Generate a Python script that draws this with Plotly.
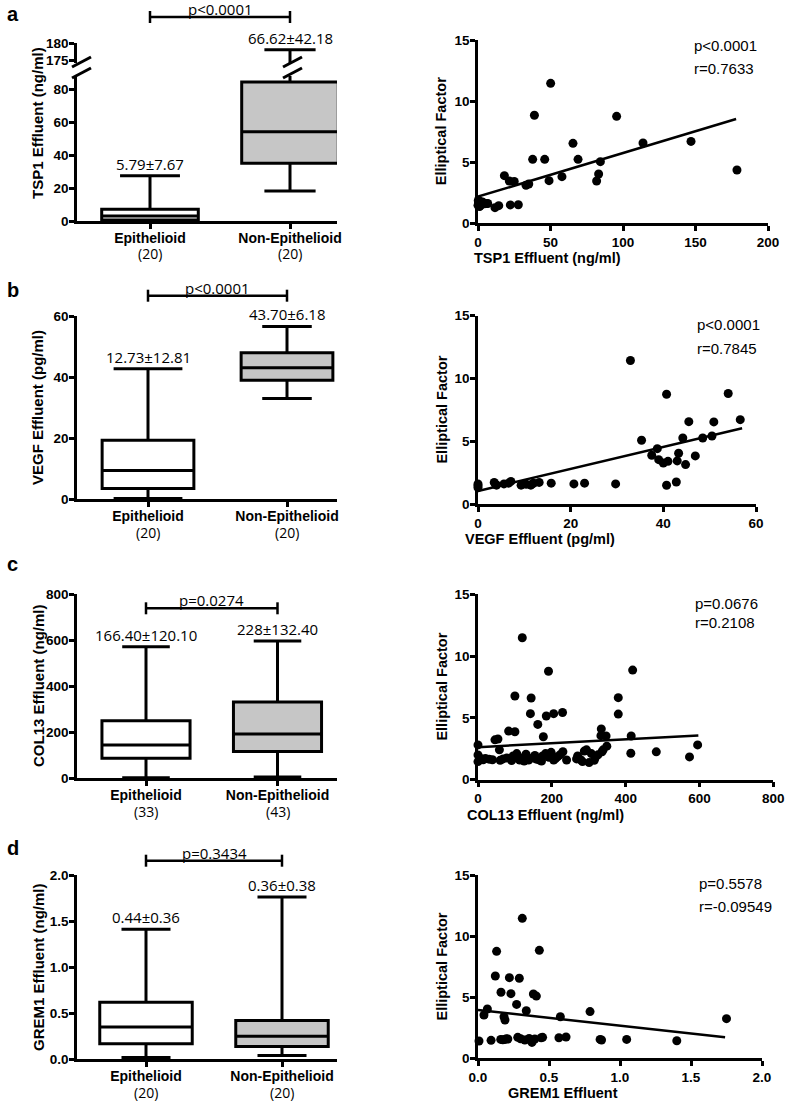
import plotly.graph_objects as go

W, H = 787, 1102

groups = ["Epithelioid", "Non-Epithelioid"]

# ---------------- Panel a : TSP1 ----------------
tsp1_n = ["20", "20"]
tsp1_min = [0.0, 18.2]
tsp1_q1 = [0.6, 35.0]
tsp1_med = [3.0, 54.1]
tsp1_q3 = [7.1, 84.4]
tsp1_max = [27.5, 178.0]
tsp1_meansd = ["5.79±7.67", "66.62±42.18"]
tsp1_p = "p<0.0001"
tsp1_x = [50.1, 38.9, 95.6, 146.9, 65.5, 113.8, 37.7, 46.0, 69.0, 84.4,
          83.2, 81.8, 178.6, 57.9, 49.0, 18.2, 21.6, 25.0, 33.1, 35.0,
          22.3, 27.8, 11.7, 14.3, 6.7, 5.8, 3.5, 0.0, 0.3, 0.5,
          0.8, 1.2, 1.5, 2.0, 2.5, 3.0, 1.0, 0.2, 4.5, 0.6]
tsp1_ef = [11.45, 8.83, 8.74, 6.69, 6.53, 6.56, 5.22, 5.22, 5.22, 5.03,
           4.02, 3.44, 4.34, 3.80, 3.47, 3.88, 3.44, 3.40, 3.09, 3.20,
           1.48, 1.50, 1.26, 1.42, 1.60, 1.60, 1.65, 1.45, 1.75, 1.55,
           1.80, 1.62, 1.40, 1.70, 1.55, 1.72, 1.35, 1.85, 1.58, 1.68]
tsp1_fit_x = [0, 178]
tsp1_fit_y = [2.16, 8.52]
tsp1_stats = ["p<0.0001", "r=0.7633"]

# ---------------- Panel b : VEGF ----------------
vegf_n = ["20", "20"]
vegf_min = [0.3, 33.0]
vegf_q1 = [3.5, 39.0]
vegf_med = [9.4, 43.1]
vegf_q3 = [19.3, 48.0]
vegf_max = [42.7, 56.6]
vegf_meansd = ["12.73±12.81", "43.70±6.18"]
vegf_p = "p<0.0001"
vegf_x = [32.9, 40.7, 54.0, 56.6, 45.5, 50.9, 35.3, 44.2, 48.5, 50.5,
          38.7, 37.5, 39.0, 40.0, 41.0, 43.3, 43.0, 44.8, 46.9, 40.7,
          42.8, 0.0, 0.0, 3.5, 4.0, 5.6, 6.6, 7.1, 9.3, 10.4,
          11.4, 12.0, 13.2, 15.8, 20.7, 23.0, 29.7, 0.0, 11.8, 3.8]
vegf_ef = [11.43, 8.74, 8.80, 6.72, 6.56, 6.54, 5.08, 5.26, 5.26, 5.42,
           4.41, 3.88, 3.53, 3.27, 3.40, 4.04, 3.43, 3.14, 3.83, 1.49,
           1.75, 1.60, 1.30, 1.72, 1.50, 1.60, 1.66, 1.80, 1.50, 1.57,
           1.50, 1.66, 1.72, 1.66, 1.60, 1.66, 1.60, 1.45, 1.62, 1.55]
vegf_fit_x = [0, 57]
vegf_fit_y = [1.04, 6.03]
vegf_stats = ["p<0.0001", "r=0.7845"]

# ---------------- Panel c : COL13 ----------------
col13_n = ["33", "43"]
col13_min = [2, 6]
col13_q1 = [87, 117]
col13_med = [145, 193]
col13_q3 = [250, 332]
col13_max = [572, 597]
col13_meansd = ["166.40±120.10", "228±132.40"]
col13_p = "p=0.0274"
col13_x = [120, 191, 419, 100, 144, 380, 142, 185, 205, 229,
           380, 162, 83, 100, 177, 334, 333, 347, 415, 46,
           54, 0, 595, 483, 414, 573, 58, 339, 349,
           0, 0, 14, 39, 68, 91, 100, 113, 130, 137,
           154, 167, 183, 192, 205, 216, 230, 240, 267, 283,
           294, 301, 307, 318, 336,
           5, 20, 30, 78, 95, 108, 120, 125, 148, 158,
           175, 198, 210, 222, 270, 278, 288, 325, 315, 105, 60, 172]
col13_ef = [11.48, 8.77, 8.86, 6.76, 6.60, 6.63, 5.33, 5.14, 5.33, 5.43,
            5.30, 4.46, 3.92, 3.87, 3.46, 4.10, 3.55, 3.52, 3.52, 3.21,
            3.28, 2.80, 2.80, 2.24, 2.13, 1.83, 2.40, 2.40, 2.70,
            1.99, 1.45, 1.60, 1.60, 1.67, 1.53, 1.85, 1.58, 2.05, 1.58,
            1.95, 1.58, 2.10, 1.80, 1.58, 1.85, 2.25, 1.58, 1.67, 1.45,
            2.40, 1.37, 2.10, 1.80, 2.25,
            1.75, 1.70, 1.65, 1.75, 1.90, 1.70, 1.75, 1.50, 1.75, 1.65,
            1.90, 2.20, 1.70, 2.00, 1.90, 1.60, 2.30, 2.00, 1.55, 2.10, 1.55, 1.50]
col13_fit_x = [0, 597]
col13_fit_y = [2.62, 3.57]
col13_stats = ["p=0.0676", "r=0.2108"]

# ---------------- Panel d : GREM1 ----------------
grem1_n = ["20", "20"]
grem1_min = [0.02, 0.04]
grem1_q1 = [0.17, 0.14]
grem1_med = [0.35, 0.25]
grem1_q3 = [0.62, 0.42]
grem1_max = [1.41, 1.76]
grem1_meansd = ["0.44±0.36", "0.36±0.38"]
grem1_p = "p=0.3434"
grem1_x = [0.312, 0.131, 0.432, 0.122, 0.221, 0.291, 0.162, 0.232, 0.39, 0.411,
           0.272, 0.066, 0.042, 0.183, 0.19, 0.34, 0.789, 0.58, 1.75,
           0.007, 0.092, 0.16, 0.19, 0.21, 0.28, 0.33, 0.36, 0.38, 0.445,
           0.455, 0.57, 0.62, 0.86, 0.87, 1.047, 1.40, 0.2, 0.175, 0.4, 0.3]
grem1_ef = [11.47, 8.77, 8.85, 6.75, 6.61, 6.56, 5.41, 5.30, 5.27, 5.10,
            4.42, 4.04, 3.55, 3.41, 3.14, 3.90, 3.83, 3.41, 3.25,
            1.42, 1.47, 1.55, 1.55, 1.58, 1.72, 1.50, 1.63, 1.30, 1.68,
            1.72, 1.68, 1.75, 1.55, 1.50, 1.55, 1.44, 1.60, 1.52, 1.58, 1.60]
grem1_fit_x = [0, 1.74]
grem1_fit_y = [3.96, 1.72]
grem1_stats = ["p=0.5578", "r=-0.09549"]

# ---------------- text ----------------
box_titles = ["TSP1 Effluent (ng/ml)", "VEGF Effluent (pg/ml)",
              "COL13 Effluent (ng/ml)", "GREM1 Effluent (ng/ml)"]
scatter_xtitles = ["TSP1 Effluent (ng/ml)", "VEGF Effluent (pg/ml)",
                   "COL13 Effluent (ng/ml)", "GREM1 Effluent"]
scatter_ytitle = "Elliptical Factor"
panel_letters = ["a", "b", "c", "d"]

panels = [
    dict(n=tsp1_n, mn=tsp1_min, q1=tsp1_q1, med=tsp1_med, q3=tsp1_q3, mx=tsp1_max,
         msd=tsp1_meansd, p=tsp1_p, sx=tsp1_x, sy=tsp1_ef, fx=tsp1_fit_x, fy=tsp1_fit_y, st=tsp1_stats),
    dict(n=vegf_n, mn=vegf_min, q1=vegf_q1, med=vegf_med, q3=vegf_q3, mx=vegf_max,
         msd=vegf_meansd, p=vegf_p, sx=vegf_x, sy=vegf_ef, fx=vegf_fit_x, fy=vegf_fit_y, st=vegf_stats),
    dict(n=col13_n, mn=col13_min, q1=col13_q1, med=col13_med, q3=col13_q3, mx=col13_max,
         msd=col13_meansd, p=col13_p, sx=col13_x, sy=col13_ef, fx=col13_fit_x, fy=col13_fit_y, st=col13_stats),
    dict(n=grem1_n, mn=grem1_min, q1=grem1_q1, med=grem1_med, q3=grem1_q3, mx=grem1_max,
         msd=grem1_meansd, p=grem1_p, sx=grem1_x, sy=grem1_ef, fx=grem1_fit_x, fy=grem1_fit_y, st=grem1_stats),
]

# ---------------- layout geometry (pixels) ----------------
box_geo = [
    dict(y0=221, y1=76, rng=[0, 88], c=(150, 290), tv=[0, 20, 40, 60, 80], fmt="", w=0.69, ww=[0.62, 0.53], bar=17, tt=123),
    dict(y0=499.3, y1=316, rng=[0, 60], c=(148, 287), tv=[0, 20, 40, 60], fmt="", w=0.66, ww=[0.75, 0.54], bar=295.7, tt=408),
    dict(y0=778.3, y1=594.3, rng=[0, 800], c=(146, 277.5), tv=[0, 200, 400, 600, 800], fmt="", w=0.67, ww=[0.54, 0.54], bar=608.3, tt=686),
    dict(y0=1059.3, y1=875, rng=[0, 2], c=(146, 282), tv=[0, 0.5, 1, 1.5, 2], fmt=".1f", w=0.68, ww=[0.53, 0.53], bar=860.7, tt=967),
]
sc_geo = [
    dict(x0=478, x1=768, xr=[0, 200], y0=223, y1=40, xt=[0, 50, 100, 150, 200], fmt="", ax=692, py=46, ry=68.3),
    dict(x0=478, x1=756, xr=[0, 60], y0=504, y1=315.7, xt=[0, 20, 40, 60], fmt="", ax=695, py=324.3, ry=348.3),
    dict(x0=478, x1=773.3, xr=[0, 800], y0=779.5, y1=594.3, xt=[0, 200, 400, 600, 800], fmt="", ax=693, py=603.3, ry=622.7),
    dict(x0=478, x1=762, xr=[0, 2], y0=1058.3, y1=875.3, xt=[0, 0.5, 1, 1.5, 2], fmt=".1f", ax=697, py=883.3, ry=906),
]
letter_y = [14, 290, 564, 848]
BOX_X0, BOX_X1 = 77, 337
fills = ["white", "#c6c6c6"]


def px(v):
    return v / W


def py(v):
    return 1 - v / H


def aref(n):
    return ("x" if n == 1 else f"x{n}"), ("y" if n == 1 else f"y{n}")


def akey(n):
    return ("xaxis" if n == 1 else f"xaxis{n}"), ("yaxis" if n == 1 else f"yaxis{n}")


TICKFONT = dict(family="Liberation Sans, Arial", size=13.5, color="black", weight="bold")
common = dict(showline=True, linecolor="black", linewidth=2.5, ticks="outside", ticklen=5,
              tickwidth=2.5, tickcolor="black", showgrid=False, zeroline=False,
              tickfont=TICKFONT, fixedrange=True, ticklabelstandoff=-2, automargin=False)

fig = go.Figure()
layout = dict(width=W, height=H, margin=dict(l=0, r=0, t=0, b=0, pad=0, autoexpand=False),
              paper_bgcolor="white", plot_bgcolor="white", showlegend=False,
              boxmode="overlay")
annotations = []
shapes = []
LS = dict(color="black", width=2.5)

for i, (pd_, bg, sg) in enumerate(zip(panels, box_geo, sc_geo)):
    nb, ns = 2 * i + 1, 2 * i + 2
    xb, yb = aref(nb)
    xs, ys = aref(ns)
    kxb, kyb = akey(nb)
    kxs, kys = akey(ns)

    # ---- box plot axes ----
    unit = bg["c"][1] - bg["c"][0]
    xr = [(BOX_X0 - bg["c"][0]) / unit, (BOX_X1 - bg["c"][0]) / unit]
    layout[kxb] = dict(common, domain=[px(BOX_X0), px(BOX_X1)], anchor=yb, type="category",
                       range=xr, tickvals=groups, ticktext=groups, ticklabelstandoff=-3,
                       tickfont=dict(family="Liberation Sans, Arial", size=14, color="black", weight="bold"))
    layout[kyb] = dict(common, domain=[py(bg["y0"]), py(bg["y1"])], anchor=xb, range=bg["rng"],
                       tickvals=bg["tv"], tickformat=bg["fmt"])

    targets = [yb]
    if i == 0:
        targets.append("y9")
    for yt in targets:
        for j, g in enumerate(groups):
            fig.add_trace(go.Box(x=[g], q1=[pd_["q1"][j]], median=[pd_["med"][j]], q3=[pd_["q3"][j]],
                                 lowerfence=[pd_["mn"][j]], upperfence=[pd_["mx"][j]],
                                 fillcolor=fills[j], line=dict(color="black", width=3),
                                 width=bg["w"], whiskerwidth=bg["ww"][j], boxpoints=False,
                                 xaxis=xb, yaxis=yt, hoverinfo="skip", showlegend=False))

    for j, g in enumerate(groups):
        # sample size under category label
        annotations.append(dict(x=j, y=py(bg["y0"] + 33), xref=xb, yref="paper", text=f"({pd_['n'][j]})",
                                showarrow=False, yanchor="middle", borderpad=0,
                                font=dict(family="Open Sans", size=14, color="black")))
        # mean ± SD labels above whisker caps
        yr = yb
        if i == 0 and j == 1:
            yr = "y9"
        annotations.append(dict(x=j, y=pd_["mx"][j], xref=xb, yref=yr, text=pd_["msd"][j],
                                showarrow=False, yshift=12, yanchor="middle",
                                font=dict(family="Open Sans", size=15, color="black")))

    # significance bar
    shapes.append(dict(type="line", xref=xb, yref="paper", x0=0, x1=1, y0=py(bg["bar"]), y1=py(bg["bar"]), line=LS))
    for xx in (0, 1):
        shapes.append(dict(type="line", xref=xb, yref="paper", x0=xx, x1=xx,
                           y0=py(bg["bar"] - 6), y1=py(bg["bar"] + 6), line=LS))
    annotations.append(dict(x=0.5, y=py(bg["bar"] - 8), xref=xb, yref="paper", text=pd_["p"],
                            showarrow=False, yanchor="middle",
                            font=dict(family="Open Sans", size=15, color="black")))
    # box y title
    annotations.append(dict(x=px(38), y=py(bg["tt"]), xref="paper", yref="paper", text=f"<b>{box_titles[i]}</b>",
                            textangle=-90, showarrow=False, xanchor="center", yanchor="middle",
                            font=dict(family="Liberation Sans, Arial", size=15, color="black")))
    # panel letter
    annotations.append(dict(x=px(5), y=py(letter_y[i]), xref="paper", yref="paper", text=f"<b>{panel_letters[i]}</b>",
                            showarrow=False, xanchor="left", yanchor="middle",
                            font=dict(family="Liberation Sans, Arial", size=20, color="black")))

    # ---- scatter axes ----
    layout[kxs] = dict(common, domain=[px(sg["x0"]), px(sg["x1"])], anchor=ys, range=sg["xr"],
                       tickvals=sg["xt"], tickformat=sg["fmt"], ticklabelstandoff=0)
    layout[kys] = dict(common, domain=[py(sg["y0"]), py(sg["y1"])], anchor=xs, range=[0, 15],
                       tickvals=[0, 5, 10, 15])
    fig.add_trace(go.Scatter(x=pd_["sx"], y=pd_["sy"], mode="markers", xaxis=xs, yaxis=ys,
                             marker=dict(color="black", size=9), cliponaxis=False, hoverinfo="skip"))
    fig.add_trace(go.Scatter(x=pd_["fx"], y=pd_["fy"], mode="lines", xaxis=xs, yaxis=ys,
                             line=dict(color="black", width=2.5), hoverinfo="skip"))
    annotations.append(dict(x=px(sg["ax"]), y=py(sg["py"]), xref="paper", yref="paper", text=pd_["st"][0],
                            showarrow=False, xanchor="left", yanchor="middle",
                            font=dict(family="Liberation Sans, Arial", size=15, color="black")))
    annotations.append(dict(x=px(sg["ax"]), y=py(sg["ry"]), xref="paper", yref="paper", text=pd_["st"][1],
                            showarrow=False, xanchor="left", yanchor="middle",
                            font=dict(family="Liberation Sans, Arial", size=15, color="black")))
    annotations.append(dict(x=px((sg["x0"] + sg["x1"]) / 2), y=py(sg["y0"] + 35), xref="paper", yref="paper",
                            text=f"<b>{scatter_xtitles[i]}</b>", showarrow=False, yanchor="middle",
                            font=dict(family="Liberation Sans, Arial", size=14.5, color="black")))
    annotations.append(dict(x=px(441.7), y=py((sg["y0"] + sg["y1"]) / 2), xref="paper", yref="paper",
                            text=f"<b>{scatter_ytitle}</b>", textangle=-90, showarrow=False,
                            xanchor="center", yanchor="middle",
                            font=dict(family="Liberation Sans, Arial", size=14.5, color="black")))

# upper (broken) segment of panel a box-plot axis
layout["yaxis9"] = dict(common, domain=[py(63.4), py(43)], anchor="x", range=[174, 180], tickvals=[175, 180])

# axis-break slashes
for (xa, xb_) in [(72, 91), (283, 302)]:
    for yb_ in (67, 78):
        shapes.append(dict(type="line", xref="paper", yref="paper", x0=px(xa), x1=px(xb_),
                           y0=py(yb_), y1=py(yb_ - 10), line=dict(color="black", width=3)))

layout["annotations"] = annotations
layout["shapes"] = shapes
fig.update_layout(**layout)
fig.write_html("out.html", config={"displayModeBar": False},
               post_script="document.body.style.margin='0';document.body.style.overflow='hidden';")
